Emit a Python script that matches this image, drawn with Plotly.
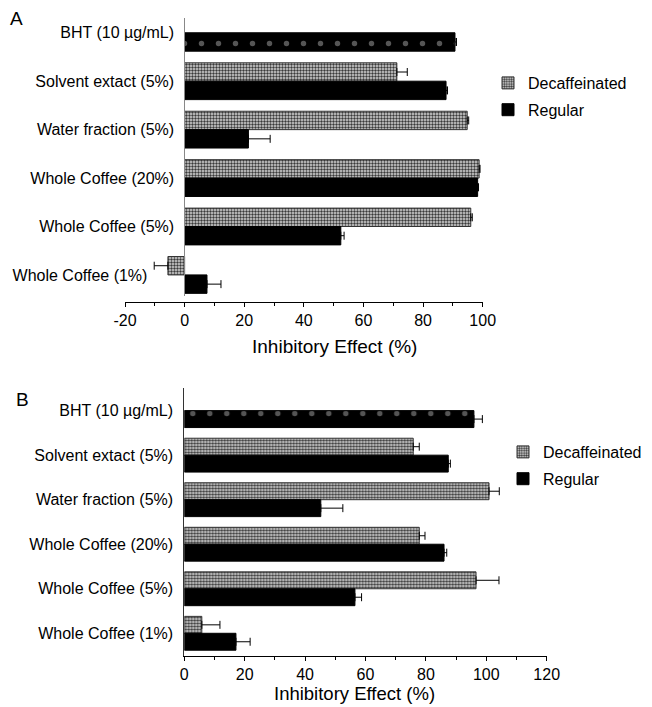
import plotly.graph_objects as go

categories = ["BHT (10 µg/mL)", "Solvent extact (5%)", "Water fraction (5%)",
              "Whole Coffee (20%)", "Whole Coffee (5%)", "Whole Coffee (1%)"]

# Panel A
a_decaf = [None, 71.2, 94.8, 98.8, 96.0, -5.6]
a_decaf_err = [0, 3.5, 0.5, 0.3, 0.5, 4.6]
a_regular = [None, 87.7, 21.4, 98.3, 52.4, 7.5]
a_regular_err = [0, 0.5, 7.3, 0.3, 1.1, 4.7]
a_bht = [90.7, None, None, None, None, None]
a_bht_err = [0.5, 0, 0, 0, 0, 0]

# Panel B
b_decaf = [None, 75.8, 100.9, 77.8, 96.6, 5.8]
b_decaf_err = [0, 2.0, 3.4, 1.9, 7.6, 6.0]
b_regular = [None, 87.4, 45.2, 86.0, 56.5, 17.1]
b_regular_err = [0, 0.7, 7.3, 0.9, 2.2, 4.7]
b_bht = [95.9, None, None, None, None, None]
b_bht_err = [2.8, 0, 0, 0, 0, 0]

a_ticks = [-20, 0, 20, 40, 60, 80, 100]
a_ticktext = ["-20", "0", "20", "40", "60", "80", "100"]
b_ticks = [0, 20, 40, 60, 80, 100, 120]
b_ticktext = ["0", "20", "40", "60", "80", "100", "120"]

FONT = "Liberation Sans, Arial, sans-serif"
OFF = 8  # page body margin
W, H = 652, 707


def px_x(p):
    return (p - OFF) / W


def px_y(p):
    return 1 - (p - OFF) / H


def err(vals, errs):
    plus = [e if (v is not None and v >= 0) else 0 for v, e in zip(vals, errs)]
    minus = [e if (v is not None and v < 0) else 0 for v, e in zip(vals, errs)]
    return dict(type="data", symmetric=False, array=plus, arrayminus=minus,
                color="black", thickness=1, width=4)


decaf_marker = dict(color="#b0b0b0", line=dict(color="#333333", width=1),
                    pattern=dict(shape=".", fgcolor="#3a3a3a", bgcolor="#d8d8d8",
                                 size=3, solidity=0.5, fillmode="replace"))
reg_marker = dict(color="black", line=dict(color="black", width=1))
bht_marker = dict(color="black", line=dict(color="black", width=1),
                  pattern=dict(shape=".", fgcolor="#555555", bgcolor="black",
                               size=17, solidity=0.08, fillmode="replace"))

fig = go.Figure()

for vals_d, err_d, vals_r, err_r, vals_b, err_b, xa, ya, lg in [
    (a_decaf, a_decaf_err, a_regular, a_regular_err, a_bht, a_bht_err, "x", "y", "legend"),
    (b_decaf, b_decaf_err, b_regular, b_regular_err, b_bht, b_bht_err, "x2", "y2", "legend2"),
]:
    fig.add_trace(go.Bar(y=categories, x=vals_d, orientation="h", name="Decaffeinated",
                         marker=decaf_marker, error_x=err(vals_d, err_d),
                         xaxis=xa, yaxis=ya, offsetgroup="d", legend=lg,
                         legendgroup="d" + lg, legendrank=1))
    fig.add_trace(go.Bar(y=categories, x=vals_r, orientation="h", name="Regular",
                         marker=reg_marker, error_x=err(vals_r, err_r),
                         xaxis=xa, yaxis=ya, offsetgroup="r", legend=lg,
                         legendgroup="r" + lg, legendrank=2))
    fig.add_trace(go.Bar(y=categories, x=vals_b, orientation="h", name="BHT",
                         marker=bht_marker, error_x=err(vals_b, err_b),
                         xaxis=xa, yaxis=ya, offsetgroup="r", showlegend=False))

tickfont = dict(family=FONT, size=16, color="black")
a_cat_text = categories[:-1] + [categories[-1] + "\u00a0" * 6]

fig.update_layout(
    width=W, height=H, margin=dict(l=0, r=0, t=0, b=0, autoexpand=False),
    paper_bgcolor="white", plot_bgcolor="white",
    barmode="group", bargap=0.24, bargroupgap=0,
    font=dict(family=FONT, size=16, color="black"),
    xaxis=dict(domain=[px_x(125), px_x(482.7)], anchor="free", position=px_y(302),
               range=[-20, 100], tickmode="array", tickvals=a_ticks, ticktext=a_ticktext,
               showline=True, linecolor="black", linewidth=1, ticks="outside",
               ticklen=4, tickcolor="black", showgrid=False, zeroline=False,
               tickfont=tickfont, automargin=False,
               minor=dict(tickvals=[-10, 10, 30, 50, 70, 90], ticks="outside",
                          ticklen=3, tickcolor="black", showgrid=False)),
    yaxis=dict(domain=[px_y(296), px_y(18)], anchor="free", position=px_x(184.3),
               type="category", range=[5.435, -0.305], tickmode="array",
               tickvals=categories, ticktext=a_cat_text, showline=True,
               linecolor="#888888", linewidth=1, ticks="", showgrid=False,
               zeroline=False, tickfont=tickfont, ticklabelstandoff=7,
               automargin=False),
    xaxis2=dict(domain=[px_x(184.3), px_x(546.7)], anchor="y2",
                range=[0, 120], tickmode="array", tickvals=b_ticks, ticktext=b_ticktext,
                showline=True, linecolor="black", linewidth=1, ticks="outside",
                ticklen=4, tickcolor="black", showgrid=False, zeroline=False,
                tickfont=tickfont, automargin=False,
                minor=dict(tickvals=[10, 30, 50, 70, 90, 110], ticks="outside",
                           ticklen=3, tickcolor="black", showgrid=False)),
    yaxis2=dict(domain=[px_y(656), px_y(388)], anchor="x2",
                type="category", range=[5.51, -0.508], tickmode="array",
                tickvals=categories, ticktext=categories, showline=True,
                linecolor="#333333", linewidth=1, ticks="", showgrid=False,
                zeroline=False, tickfont=tickfont, ticklabelstandoff=7,
                automargin=False),
    legend=dict(x=px_x(488), y=px_y(66), xanchor="left", yanchor="top",
                bgcolor="rgba(0,0,0,0)", font=dict(family=FONT, size=16),
                traceorder="grouped", tracegroupgap=3),
    legend2=dict(x=px_x(503), y=px_y(435), xanchor="left", yanchor="top",
                 bgcolor="rgba(0,0,0,0)", font=dict(family=FONT, size=16),
                 traceorder="grouped", tracegroupgap=3),
    annotations=[
        dict(text="A", x=px_x(8), y=px_y(18), xref="paper", yref="paper",
             xanchor="left", yanchor="middle", showarrow=False,
             font=dict(family=FONT, size=19, color="black")),
        dict(text="B", x=px_x(14), y=px_y(399), xref="paper", yref="paper",
             xanchor="left", yanchor="middle", showarrow=False,
             font=dict(family=FONT, size=19, color="black")),
        dict(text="Inhibitory Effect (%)", x=px_x(334), y=px_y(346), xref="paper",
             yref="paper", xanchor="center", yanchor="middle", showarrow=False,
             font=dict(family=FONT, size=19, color="black")),
        dict(text="Inhibitory Effect (%)", x=px_x(354), y=px_y(693), xref="paper",
             yref="paper", xanchor="center", yanchor="middle", showarrow=False,
             font=dict(family=FONT, size=18.5, color="black")),
    ],
)

fig.write_html("out.html")
